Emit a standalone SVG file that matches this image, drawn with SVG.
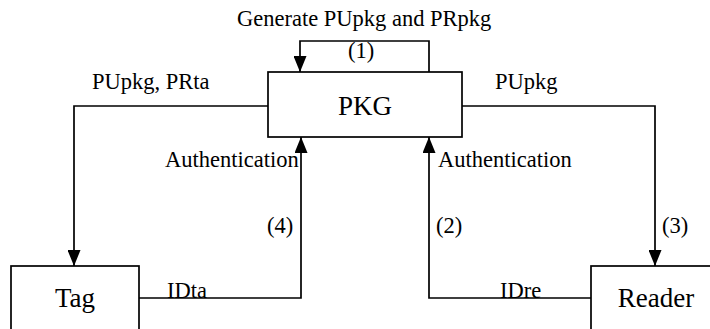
<svg xmlns="http://www.w3.org/2000/svg" width="710" height="329" viewBox="0 0 710 329">
<defs>
<marker id="arr" viewBox="0 0 16 13" refX="16" refY="6.5" markerWidth="16" markerHeight="13" markerUnits="userSpaceOnUse" orient="auto">
<path d="M0,0 L16,6.5 L0,13 Z" fill="#000"/>
</marker>
<style>
.box{fill:#fff;stroke:#000;stroke-width:1.7}
.ln{fill:none;stroke:#000;stroke-width:1.7}
.lbl{font-family:"Liberation Serif","Times New Roman",serif;font-size:22.5px;fill:#000}
.nd{font-family:"Liberation Serif","Times New Roman",serif;font-size:27px;fill:#000;text-anchor:middle}
</style>
</defs>
<rect width="710" height="329" fill="#fff"/>
<g id="connectors">
<path class="ln" d="M429,72 V41 H300 V72" marker-end="url(#arr)"/>
<path class="ln" d="M268,106 H74 V266" marker-end="url(#arr)"/>
<path class="ln" d="M462,106 H655 V266" marker-end="url(#arr)"/>
<path class="ln" d="M139,298 H301 V137" marker-end="url(#arr)"/>
<path class="ln" d="M591,298 H429 V137" marker-end="url(#arr)"/>
</g>
<g id="PKG">
<rect class="box" x="268" y="72" width="194" height="65"/>
<text class="nd" x="365" y="115">PKG</text>
</g>
<g id="Tag">
<rect class="box" x="11" y="266" width="128" height="80"/>
<text class="nd" x="75" y="307">Tag</text>
</g>
<g id="Reader">
<rect class="box" x="591" y="266" width="140" height="80"/>
<text class="nd" x="656" y="307">Reader</text>
</g>
<g id="labels">
<text class="lbl" x="237" y="26">Generate PUpkg and PRpkg</text>
<text class="lbl" x="348" y="58">(1)</text>
<text class="lbl" x="92" y="89">PUpkg, PRta</text>
<text class="lbl" x="495" y="89">PUpkg</text>
<text class="lbl" x="165" y="167">Authentication</text>
<text class="lbl" x="438" y="167">Authentication</text>
<text class="lbl" x="267" y="233">(4)</text>
<text class="lbl" x="436" y="233">(2)</text>
<text class="lbl" x="662" y="233">(3)</text>
<text class="lbl" x="167" y="298">IDta</text>
<text class="lbl" x="500" y="298">IDre</text>
</g>
</svg>
